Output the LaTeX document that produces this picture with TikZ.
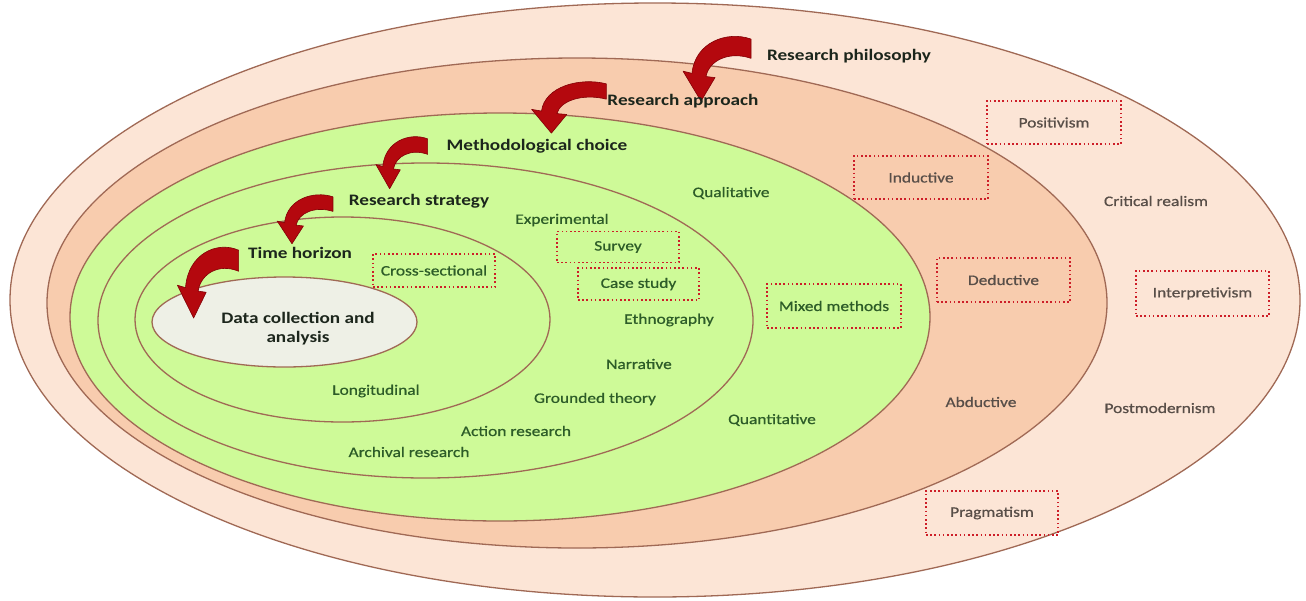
\documentclass[tikz,border=0pt]{standalone}
\usepackage{fontspec}
\setmainfont{Carlito}[FakeStretch=1.2]
\newfontfamily\labelfont{Carlito}[FakeStretch=1.2, FakeBold=0.7]

\definecolor{philo}{RGB}{252,229,214}
\definecolor{approachfill}{RGB}{248,204,174}
\definecolor{choicefill}{RGB}{206,250,152}
\definecolor{datafill}{RGB}{238,240,230}
\definecolor{ringline}{RGB}{160,105,85}
\definecolor{headtext}{RGB}{28,38,28}
\definecolor{greentext}{RGB}{45,92,40}
\definecolor{greytext}{RGB}{88,78,72}
\definecolor{boxred}{RGB}{205,30,40}
\definecolor{arrowred}{RGB}{180,8,14}
\definecolor{arrowdark}{RGB}{130,0,5}

\tikzset{
  curl/.pic={
    \path[fill=arrowred, draw=arrowdark, line width=0.6pt, line join=round]
      (64,1) .. controls (40,-7) and (8,4) .. (5,33)
      -- (-4,31) -- (14,59) -- (28,37) -- (19,36)
      .. controls (22,21) and (42,12) .. (64,19) -- cycle;
  }
}

\begin{document}
\begin{tikzpicture}[x=1pt, y=-1pt,
  ring/.style={draw=ringline, line width=1.3pt},
  head/.style={font=\fontsize{16}{19}\selectfont\bfseries, text=headtext, inner sep=1pt},
  glabel/.style={font=\labelfont\fontsize{14.5}{17}\selectfont, text=greentext, inner sep=1pt},
  plabel/.style={font=\labelfont\fontsize{14.5}{17}\selectfont, text=greytext, inner sep=1pt},
  dotbox/.style={draw=boxred, line width=1.6pt, dash pattern=on 1.6pt off 2.6pt, inner sep=0pt}
]
\fill[white] (0,0) rectangle (1306,600);
\useasboundingbox (0,0) rectangle (1306,600);

% the nested layers of the onion
\draw[ring, fill=philo] (655,300) ellipse [x radius=645pt, y radius=297pt];
\draw[ring, fill=approachfill] (577,303) ellipse [x radius=530pt, y radius=245pt];
\draw[ring, fill=choicefill] (500,317) ellipse [x radius=430pt, y radius=204pt];
\draw[ring] (425.5,320.5) ellipse [x radius=327.5pt, y radius=157.5pt];
\draw[ring] (342.5,319.5) ellipse [x radius=207.5pt, y radius=102.5pt];
\draw[ring, fill=datafill] (284.5,322) ellipse [x radius=132.5pt, y radius=45pt];

% curled arrows leading inwards
\pic[xscale=1.0, yscale=1.07] at (687,38) {curl};
\pic[xscale=1.1, yscale=0.85] at (536,83) {curl};
\pic[xscale=0.76, yscale=0.86] at (379,138) {curl};
\pic[xscale=0.82, yscale=0.81] at (280.5,196) {curl};
\pic[xscale=0.9, yscale=1.17] at (181,249) {curl};

% layer headings
\node[head] (philosophy) at (849,56) {Research philosophy};
\node[head] (approach) at (683,101) {Research approach};
\node[head] (choice) at (537,146) {Methodological choice};
\node[head] (strategy) at (419,201) {Research strategy};
\node[head] (horizon) at (300,253) {Time horizon};
\node[head, align=center] (data) at (298,329) {Data collection and\\analysis};

% strategies and time horizons
\node[glabel] (experimental) at (562,220) {Experimental};
\node[glabel, dotbox, minimum width=122pt, minimum height=31pt] (survey) at (618,247) {Survey};
\node[glabel, dotbox, minimum width=121pt, minimum height=32pt] (casestudy) at (638.5,284) {Case study};
\node[glabel, dotbox, minimum width=122pt, minimum height=33pt] (cross) at (434,270.5) {Cross-sectional};
\node[glabel] (ethno) at (669,320) {Ethnography};
\node[glabel] (narrative) at (639,364) {Narrative};
\node[glabel] (grounded) at (595,399) {Grounded theory};
\node[glabel] (action) at (516,431) {Action research};
\node[glabel] (archival) at (409,452) {Archival research};
\node[glabel] (longitudinal) at (376,391) {Longitudinal};

% methodological choices
\node[glabel] (qualitative) at (731,193) {Qualitative};
\node[glabel, dotbox, minimum width=134pt, minimum height=44pt] (mixed) at (834,306) {Mixed methods};
\node[glabel] (quantitative) at (772,420) {Quantitative};

% approaches
\node[plabel, dotbox, minimum width=134pt, minimum height=43pt] (inductive) at (921,177.5) {Inductive};
\node[plabel, dotbox, minimum width=133pt, minimum height=44pt] (deductive) at (1003.5,280) {Deductive};
\node[plabel] (abductive) at (981,402) {Abductive};

% philosophies
\node[plabel, dotbox, minimum width=134pt, minimum height=43pt] (positivism) at (1054,122.5) {Positivism};
\node[plabel] (critical) at (1156,201) {Critical realism};
\node[plabel, dotbox, minimum width=133pt, minimum height=45pt] (interpretivism) at (1202.5,293.5) {Interpretivism};
\node[plabel] (postmodernism) at (1160,408) {Postmodernism};
\node[plabel, dotbox, minimum width=132pt, minimum height=44pt] (pragmatism) at (992,513) {Pragmatism};
\end{tikzpicture}
\end{document}
